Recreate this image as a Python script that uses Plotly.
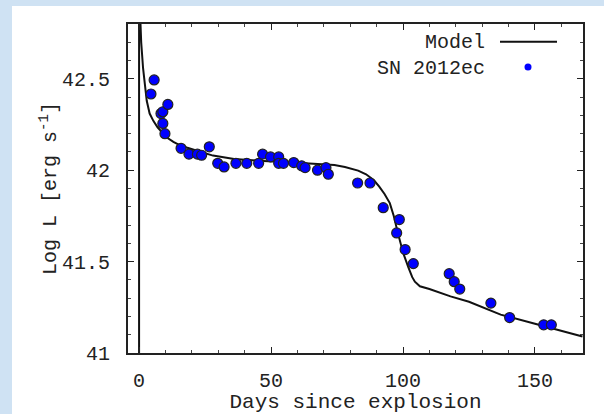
import plotly.graph_objects as go

# Observed data: SN 2012ec
obs_days = [4.5, 5.7, 8.3, 9.0, 10.9, 9.0, 9.8, 15.9, 18.9, 22.1, 23.7, 26.6, 29.8, 32.2,
            36.7, 40.8, 45.3, 46.8, 49.8, 52.9, 52.9, 54.7, 58.6, 61.6, 62.9, 67.6, 70.8,
            71.7, 82.8, 87.5, 92.5, 98.6, 97.6, 100.8, 103.9, 117.5, 119.4, 121.5, 133.3,
            140.4, 153.3, 156.2]
obs_logL = [42.417, 42.494, 42.31, 42.32, 42.36, 42.256, 42.20, 42.12, 42.088, 42.088,
            42.082, 42.128, 42.038, 42.018, 42.038, 42.038, 42.038, 42.088, 42.073, 42.073,
            42.038, 42.038, 42.042, 42.024, 42.014, 42.0, 42.014, 41.978, 41.93, 41.93,
            41.795, 41.73, 41.657, 41.566, 41.489, 41.434, 41.39, 41.35, 41.273, 41.194,
            41.154, 41.154]

# Model light curve
model_days = [0.0, 0.0, 0.4, 0.8, 1.5, 2.2, 2.9, 4.0, 5.4, 7.0, 8.5, 10.4, 13.0, 15.0, 18.0,
              23.0, 28.0, 36.0, 45.0, 55.0, 61.0, 70.0, 74.0, 78.0, 83.0, 86.0, 89.0, 91.0,
              93.0, 95.0, 96.5, 98.0, 100.0, 102.0, 103.5, 104.5, 106.4, 110.0, 118.0,
              125.0, 137.0, 150.0, 160.0, 168.0]
model_logL = [40.5, 43.5, 42.85, 42.70, 42.56, 42.45, 42.38, 42.31, 42.27, 42.235, 42.21,
              42.18, 42.155, 42.14, 42.124, 42.10, 42.08, 42.062, 42.052, 42.045, 42.04,
              42.032, 42.028, 42.018, 41.998, 41.978, 41.945, 41.91, 41.87, 41.82, 41.75,
              41.66, 41.55, 41.47, 41.415, 41.39, 41.365, 41.35, 41.31, 41.28, 41.21,
              41.16, 41.12, 41.09]

x_ticks = [0, 50, 100, 150]
y_ticks = [41, 41.5, 42, 42.5]
y_tick_text = ["41", "41.5", "42", "42.5"]

FONT = "Liberation Mono"
TXT = "#222222"

fig = go.Figure()
fig.add_trace(go.Scatter(x=model_days, y=model_logL, mode="lines",
                         line=dict(color="#111111", width=2), name="Model",
                         showlegend=False))
fig.add_trace(go.Scatter(x=obs_days, y=obs_logL, mode="markers",
                         marker=dict(color="#0000ff", size=10,
                                     line=dict(color="#222222", width=1.2)),
                         name="SN 2012ec", showlegend=False))

L, R, T, B = 128, 21, 24, 61
W, H = 604, 414
pw, ph = W - L - R, H - T - B

def px(xp):
    return (xp - L) / pw

def py(yp):
    return (H - B - yp) / ph

shapes = [
    dict(type="rect", xref="paper", yref="paper", x0=px(12), x1=px(610), y0=py(420), y1=py(6),
         fillcolor="white", line=dict(width=0), layer="below"),
    dict(type="line", xref="paper", yref="paper", x0=px(500), x1=px(557), y0=py(41.7), y1=py(41.7),
         line=dict(color="#111111", width=2)),
    dict(type="circle", xref="paper", yref="paper", x0=px(524.5), x1=px(531.5),
         y0=py(70.5), y1=py(63.5), fillcolor="#0000ff", line=dict(width=0)),
]
annotations = [
    dict(text="Model", xref="paper", yref="paper", x=px(487), y=py(42.5), xanchor="right",
         yanchor="middle", showarrow=False, font=dict(family=FONT, size=20, color=TXT)),
    dict(text="SN 2012ec", xref="paper", yref="paper", x=px(487), y=py(68.5), xanchor="right",
         yanchor="middle", showarrow=False, font=dict(family=FONT, size=20, color=TXT)),
]

axis_common = dict(showline=True, mirror="allticks", linecolor="#222222", linewidth=2,
                   ticks="inside", ticklen=6, tickwidth=1, tickcolor="#222222",
                   showgrid=False, zeroline=False,
                   tickfont=dict(family=FONT, size=20, color=TXT))

fig.update_xaxes(range=[-4.2, 168.2], tickvals=x_ticks,
                 minor=dict(dtick=10, tick0=0, ticks="inside", ticklen=3, tickcolor="#444444"),
                 title=dict(text="Days since explosion", font=dict(family=FONT, size=21, color=TXT),
                            standoff=10),
                 ticklabelstandoff=8, **axis_common)
fig.update_yaxes(range=[41, 42.8], tickvals=y_ticks, ticktext=y_tick_text,
                 minor=dict(dtick=0.1, tick0=41, ticks="inside", ticklen=3, tickcolor="#444444"),
                 title=dict(text="Log L [erg s<sup>-1</sup>]", font=dict(family=FONT, size=20, color=TXT),
                            standoff=0),
                 ticklabelstandoff=12, **axis_common)

fig.update_layout(width=W, height=H, margin=dict(l=L, r=R, t=T, b=B, autoexpand=False),
                  paper_bgcolor="#cfe2f3", plot_bgcolor="white",
                  shapes=shapes, annotations=annotations, showlegend=False)

fig.write_html("out.html")
